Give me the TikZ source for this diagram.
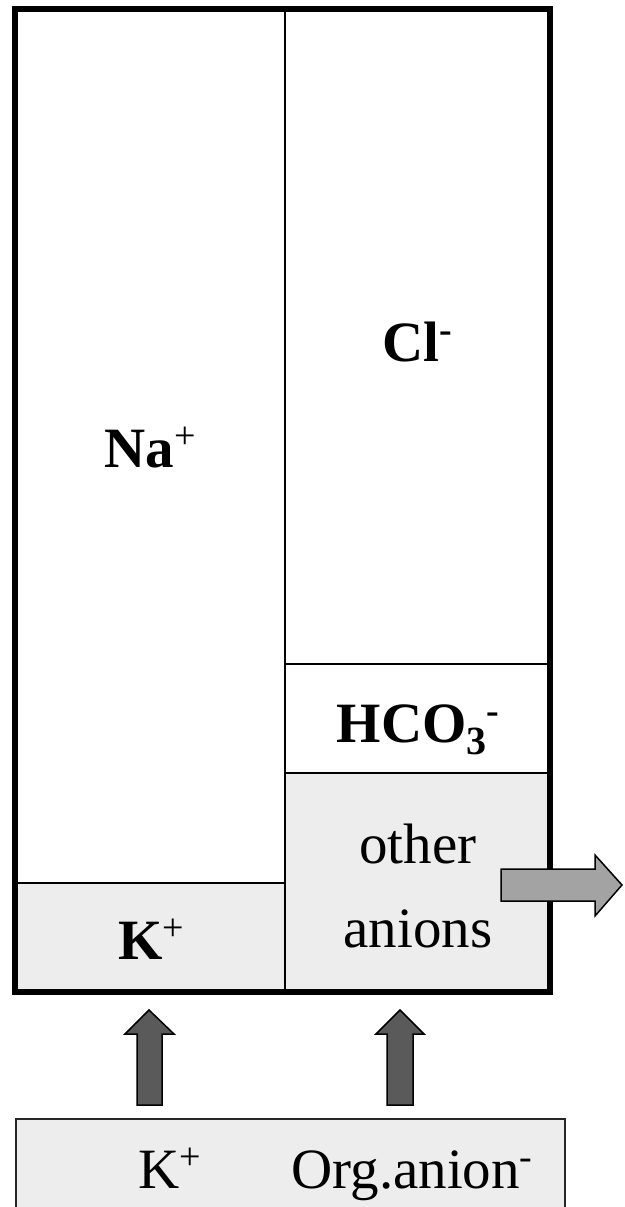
\documentclass[tikz,border=0pt]{standalone}
\usepackage{fontspec}
\setmainfont{Liberation Serif}
\newcommand{\supa}[1]{\raisebox{18.5pt}{\fontsize{38}{38}\selectfont #1}}
\newcommand{\suba}[1]{\raisebox{-12pt}{\fontsize{40}{40}\selectfont #1}}
\definecolor{cellgray}{HTML}{EDEDED}
\definecolor{arrowlight}{HTML}{A3A3A3}
\definecolor{arrowdark}{HTML}{5A5A5A}
\begin{document}
\begin{tikzpicture}[x=1pt,y=-1pt,
  lbl/.style={inner sep=0pt, anchor=base, font=\fontsize{57}{57}\selectfont},
  blbl/.style={inner sep=0pt, anchor=base, font=\fontsize{57}{57}\selectfont\bfseries},
  inner line/.style={line width=2.5pt, draw=black},
  outer line/.style={line width=5.5pt, draw=black},
  flow arrow/.style={draw=black, line width=1.5pt, line join=miter},
]
\clip (0,0) rectangle (624,1207);
% shaded cells
\fill[cellgray] (15,883) rectangle (285,992);
\fill[cellgray] (285,773) rectangle (550,992);
% inner dividers
\draw[inner line] (285,9) -- (285,992);
\draw[inner line] (15,883) -- (285,883);
\draw[inner line] (285,664) -- (550,664);
\draw[inner line] (285,773) -- (550,773);
% outer frame
\draw[outer line] (15,9) rectangle (550,992);
% labels
\node[blbl] (na) at (150,467) {Na\supa{\mdseries +}};
\node[blbl] (cl) at (417,361) {Cl\supa{-}};
\node[blbl] (hco) at (418,742) {HCO\suba{3}\supa{-}};
\node[blbl] (kin) at (151,959) {K\supa{\mdseries +}};
\node[lbl] (oth) at (418,863) {other};
\node[lbl] (ani) at (418,947) {anions};
% right arrow
\draw[flow arrow, fill=arrowlight] (501,869) -- (595,869) -- (595,855) -- (622,885) -- (595,916) -- (595,901) -- (501,901) -- cycle;
% up arrows
\draw[flow arrow, fill=arrowdark] (137,1105) -- (137,1034) -- (125,1034) -- (149,1010) -- (174,1034) -- (162,1034) -- (162,1105) -- cycle;
\draw[flow arrow, fill=arrowdark] (387,1105) -- (387,1034) -- (376,1034) -- (400,1010) -- (424,1034) -- (413,1034) -- (413,1105) -- cycle;
% bottom box
\draw[draw=black!85, line width=1.5pt, fill=cellgray] (16,1119) rectangle (565,1230);
\node[lbl] (kout) at (170,1188) {K\supa{+}};
\node[lbl] (org) at (412,1188) {Org.anion\supa{-}};
\end{tikzpicture}
\end{document}
